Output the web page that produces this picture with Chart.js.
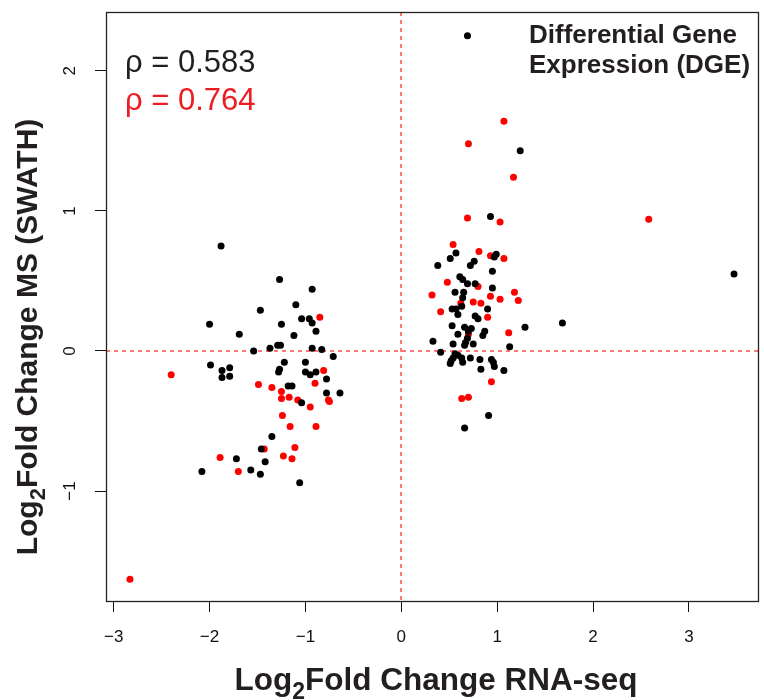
<!DOCTYPE html>
<html>
<head>
<meta charset="utf-8">
<title>DGE scatter</title>
<script src="https://cdn.jsdelivr.net/npm/chart.js@4.4.1/dist/chart.umd.min.js"></script>
<style>
    html, body { margin: 0; padding: 0; background: #fff; }
    #wrap { width: 764px; height: 700px; }
</style>
</head>
<body>
<div id="wrap"><canvas id="dgeChart" width="764" height="700"></canvas></div>
<script>
// Log2 fold change, RNA-seq (x) vs SWATH MS (y)
// black = all genes, red = subset
const blackX = [
    -1.88, -1.27, -0.93, -1.47, -1.10, -2.00, -1.04, -0.96, -0.93, -1.25, -1.69, -0.89, -1.12, -1.54,
    -1.37, -1.29, -1.26, -0.93, -0.83, -0.71, -1.99, -1.87, -1.79, -1.87, -1.79, -1.22, -1.00, -1.27,
    -1.28, -1.00, -0.95, -0.89, -0.78, -1.18, -1.14, -0.78, -0.64, -1.04, -1.35, -1.46, -1.42, -1.72,
    -1.57, -1.47, -2.08, -1.06,
    0.69, 1.24, 0.93, 0.57, 0.51, 0.97, 0.99, 0.38, 0.72, 0.76, 0.95, 0.61, 0.64, 0.69, 0.77, 0.95,
    0.56, 0.65, 0.64, 0.63, 0.53, 0.57, 0.90, 0.59, 0.77, 0.80, 0.53, 0.66, 0.73, 0.70, 0.59, 0.87,
    0.85, 1.29, 0.33, 0.69, 0.67, 0.66, 0.54, 0.75, 1.13, 0.41, 0.56, 0.59, 0.54, 0.52, 0.51, 0.63,
    0.64, 0.72, 0.82, 0.94, 0.96, 0.97, 0.83, 1.07, 0.91, 0.66, 1.68, 3.47
];
const blackY = [
    0.75, 0.51, 0.44, 0.29, 0.33, 0.19, 0.23, 0.23, 0.20, 0.19, 0.12, 0.14, 0.11, 0.00,
    0.02, 0.04, 0.04, 0.02, 0.01, -0.04, -0.10, -0.14, -0.12, -0.19, -0.18, -0.08, -0.08, -0.13,
    -0.15, -0.15, -0.17, -0.15, -0.20, -0.25, -0.25, -0.30, -0.30, -0.37, -0.61, -0.70, -0.79, -0.77,
    -0.85, -0.88, -0.86, -0.94,
    2.25, 1.43, 0.96, 0.70, 0.66, 0.67, 0.69, 0.61, 0.61, 0.64, 0.57, 0.53, 0.51, 0.48, 0.48, 0.45,
    0.42, 0.42, 0.38, 0.32, 0.30, 0.30, 0.30, 0.26, 0.25, 0.23, 0.18, 0.17, 0.16, 0.14, 0.12, 0.14,
    0.11, 0.17, 0.07, 0.09, 0.06, 0.04, 0.05, 0.05, 0.03, -0.01, -0.02, -0.03, -0.05, -0.07, -0.09, -0.05,
    -0.08, -0.05, -0.06, -0.06, -0.08, -0.11, -0.13, -0.14, -0.46, -0.55, 0.20, 0.55
];
const redX = [
    -0.85, -0.81, -0.90, -1.49, -1.35, -1.25, -1.25, -1.17, -1.08, -0.76, -0.75, -0.95, -1.24, -1.16,
    -0.89, -1.11, -1.43, -1.23, -1.14, -1.89, -1.70, -2.40, -2.83,
    1.07, 0.70, 1.17, 2.58, 0.69, 1.03, 0.54, 0.81, 0.93, 1.07, 0.48, 0.80, 0.32, 0.93,
    1.03, 1.18, 1.22, 0.75, 0.83, 0.62, 0.41, 0.90, 1.12, 0.70, 0.94, 0.63, 0.70
];
const redY = [
    0.24, -0.14, -0.23, -0.24, -0.26, -0.29, -0.34, -0.33, -0.35, -0.35, -0.36, -0.40, -0.46, -0.54,
    -0.54, -0.69, -0.70, -0.75, -0.77, -0.76, -0.86, -0.17, -1.63,
    1.64, 1.48, 1.24, 0.94, 0.95, 0.92, 0.76, 0.71, 0.68, 0.66, 0.49, 0.46, 0.40, 0.39,
    0.37, 0.42, 0.36, 0.35, 0.34, 0.34, 0.28, 0.24, 0.13, 0.12, -0.22, -0.34, -0.33
];
const xTicks = [-3, -2, -1, 0, 1, 2, 3];
const yTicks = [-1, 0, 1, 2];
const rhoAll = 'ρ = 0.583';
const rhoRed = 'ρ = 0.764';
const titleLines = ['Differential Gene', 'Expression (DGE)'];

const FONT = '"Liberation Sans", Arial, Helvetica, sans-serif';

function toPoints(xs, ys) {
    return xs.map((x, i) => ({ x: x, y: ys[i] }));
}

function minusLabel(v) {
    return v < 0 ? '\u2212' + Math.abs(v) : String(v);
}

// label like Log2 Fold Change ..., with the 2 as a subscript
function drawSubLabel(ctx, cx, baseY, base, sub, rest, size) {
    const main = 'bold ' + size + 'px ' + FONT;
    const small = 'bold ' + Math.round(size * 0.72) + 'px ' + FONT;
    ctx.font = main;
    const w1 = ctx.measureText(base).width;
    const w3 = ctx.measureText(rest).width;
    ctx.font = small;
    const w2 = ctx.measureText(sub).width;
    let x = cx - (w1 + w2 + w3) / 2;
    ctx.textAlign = 'left';
    ctx.textBaseline = 'alphabetic';
    ctx.font = main;
    ctx.fillText(base, x, baseY);
    x += w1;
    ctx.font = small;
    ctx.fillText(sub, x, baseY + size * 0.28);
    x += w2;
    ctx.font = main;
    ctx.fillText(rest, x, baseY);
}

const overlayPlugin = {
    id: 'overlay',
    beforeDatasetsDraw(chart) {
        const { ctx, chartArea: a, scales } = chart;
        const x0 = Math.round(scales.x.getPixelForValue(0));
        const y0 = Math.round(scales.y.getPixelForValue(0));
        ctx.save();
        ctx.strokeStyle = '#ff3030';
        ctx.lineWidth = 1.3;
        ctx.setLineDash([4, 4]);
        ctx.beginPath();
        ctx.moveTo(x0, a.top);
        ctx.lineTo(x0, a.bottom);
        ctx.stroke();
        ctx.beginPath();
        ctx.moveTo(a.left, y0);
        ctx.lineTo(a.right, y0);
        ctx.stroke();
        ctx.restore();
    },
    afterDraw(chart) {
        const { ctx, chartArea: a, scales } = chart;
        ctx.save();

        // plot box
        ctx.strokeStyle = '#222';
        ctx.lineWidth = 1.3;
        ctx.strokeRect(Math.round(a.left) + 0.5, Math.round(a.top) + 0.5,
            Math.round(a.right - a.left), Math.round(a.bottom - a.top));

        // y tick labels, rotated like R
        ctx.fillStyle = '#111';
        ctx.font = '17px ' + FONT;
        ctx.textAlign = 'center';
        ctx.textBaseline = 'middle';
        yTicks.forEach(v => {
            const py = scales.y.getPixelForValue(v);
            ctx.save();
            ctx.translate(70, py);
            ctx.rotate(-Math.PI / 2);
            ctx.fillText(minusLabel(v), 0, 0);
            ctx.restore();
        });

        // axis titles
        ctx.fillStyle = '#231f20';
        drawSubLabel(ctx, 436, 690, 'Log', '2', 'Fold Change RNA-seq', 31.5);
        ctx.save();
        ctx.translate(37, 337);
        ctx.rotate(-Math.PI / 2);
        drawSubLabel(ctx, 0, 0, 'Log', '2', 'Fold Change MS (SWATH)', 30);
        ctx.restore();

        // correlation labels
        ctx.textAlign = 'left';
        ctx.textBaseline = 'alphabetic';
        ctx.font = '31px ' + FONT;
        ctx.fillStyle = '#231f20';
        ctx.fillText(rhoAll, 125, 72);
        ctx.fillStyle = '#ec1c24';
        ctx.fillText(rhoRed, 125, 110);

        // panel title
        ctx.fillStyle = '#231f20';
        ctx.font = 'bold 26px ' + FONT;
        ctx.fillText(titleLines[0], 529, 43);
        ctx.fillText(titleLines[1], 529, 73);

        ctx.restore();
    }
};

function initializeScatter() {
    const canvas = document.getElementById('dgeChart');
    if (!canvas) return;

    new Chart(canvas, {
        type: 'scatter',
        data: {
            datasets: [
                {
                    label: 'All',
                    data: toPoints(blackX, blackY),
                    backgroundColor: '#000',
                    borderWidth: 0,
                    pointRadius: 3.5,
                    pointHoverRadius: 3.5
                },
                {
                    label: 'Subset',
                    data: toPoints(redX, redY),
                    backgroundColor: '#ff0000',
                    borderWidth: 0,
                    pointRadius: 3.5,
                    pointHoverRadius: 3.5
                }
            ]
        },
        options: {
            responsive: false,
            animation: false,
            devicePixelRatio: 1,
            layout: { padding: { top: 12, right: 6, left: 0, bottom: 0 } },
            plugins: {
                legend: { display: false },
                tooltip: { enabled: false }
            },
            scales: {
                x: {
                    type: 'linear',
                    min: -3.08,
                    max: 3.72,
                    afterBuildTicks: scale => { scale.ticks = xTicks.map(v => ({ value: v })); },
                    afterFit: scale => { scale.height = 99; },
                    grid: { drawOnChartArea: false, drawTicks: true, tickLength: 11, color: '#111', lineWidth: 1 },
                    border: { display: false },
                    ticks: {
                        padding: 15,
                        color: '#111',
                        font: { family: FONT, size: 17 },
                        maxRotation: 0,
                        callback: v => minusLabel(v)
                    }
                },
                y: {
                    type: 'linear',
                    min: -1.785,
                    max: 2.42,
                    afterBuildTicks: scale => { scale.ticks = yTicks.map(v => ({ value: v })); },
                    afterFit: scale => { scale.width = 106; },
                    grid: { drawOnChartArea: false, drawTicks: true, tickLength: 11, color: '#111', lineWidth: 1 },
                    border: { display: false },
                    ticks: { display: false }
                }
            }
        },
        plugins: [overlayPlugin]
    });
}

document.addEventListener('DOMContentLoaded', initializeScatter);
</script>
</body>
</html>
